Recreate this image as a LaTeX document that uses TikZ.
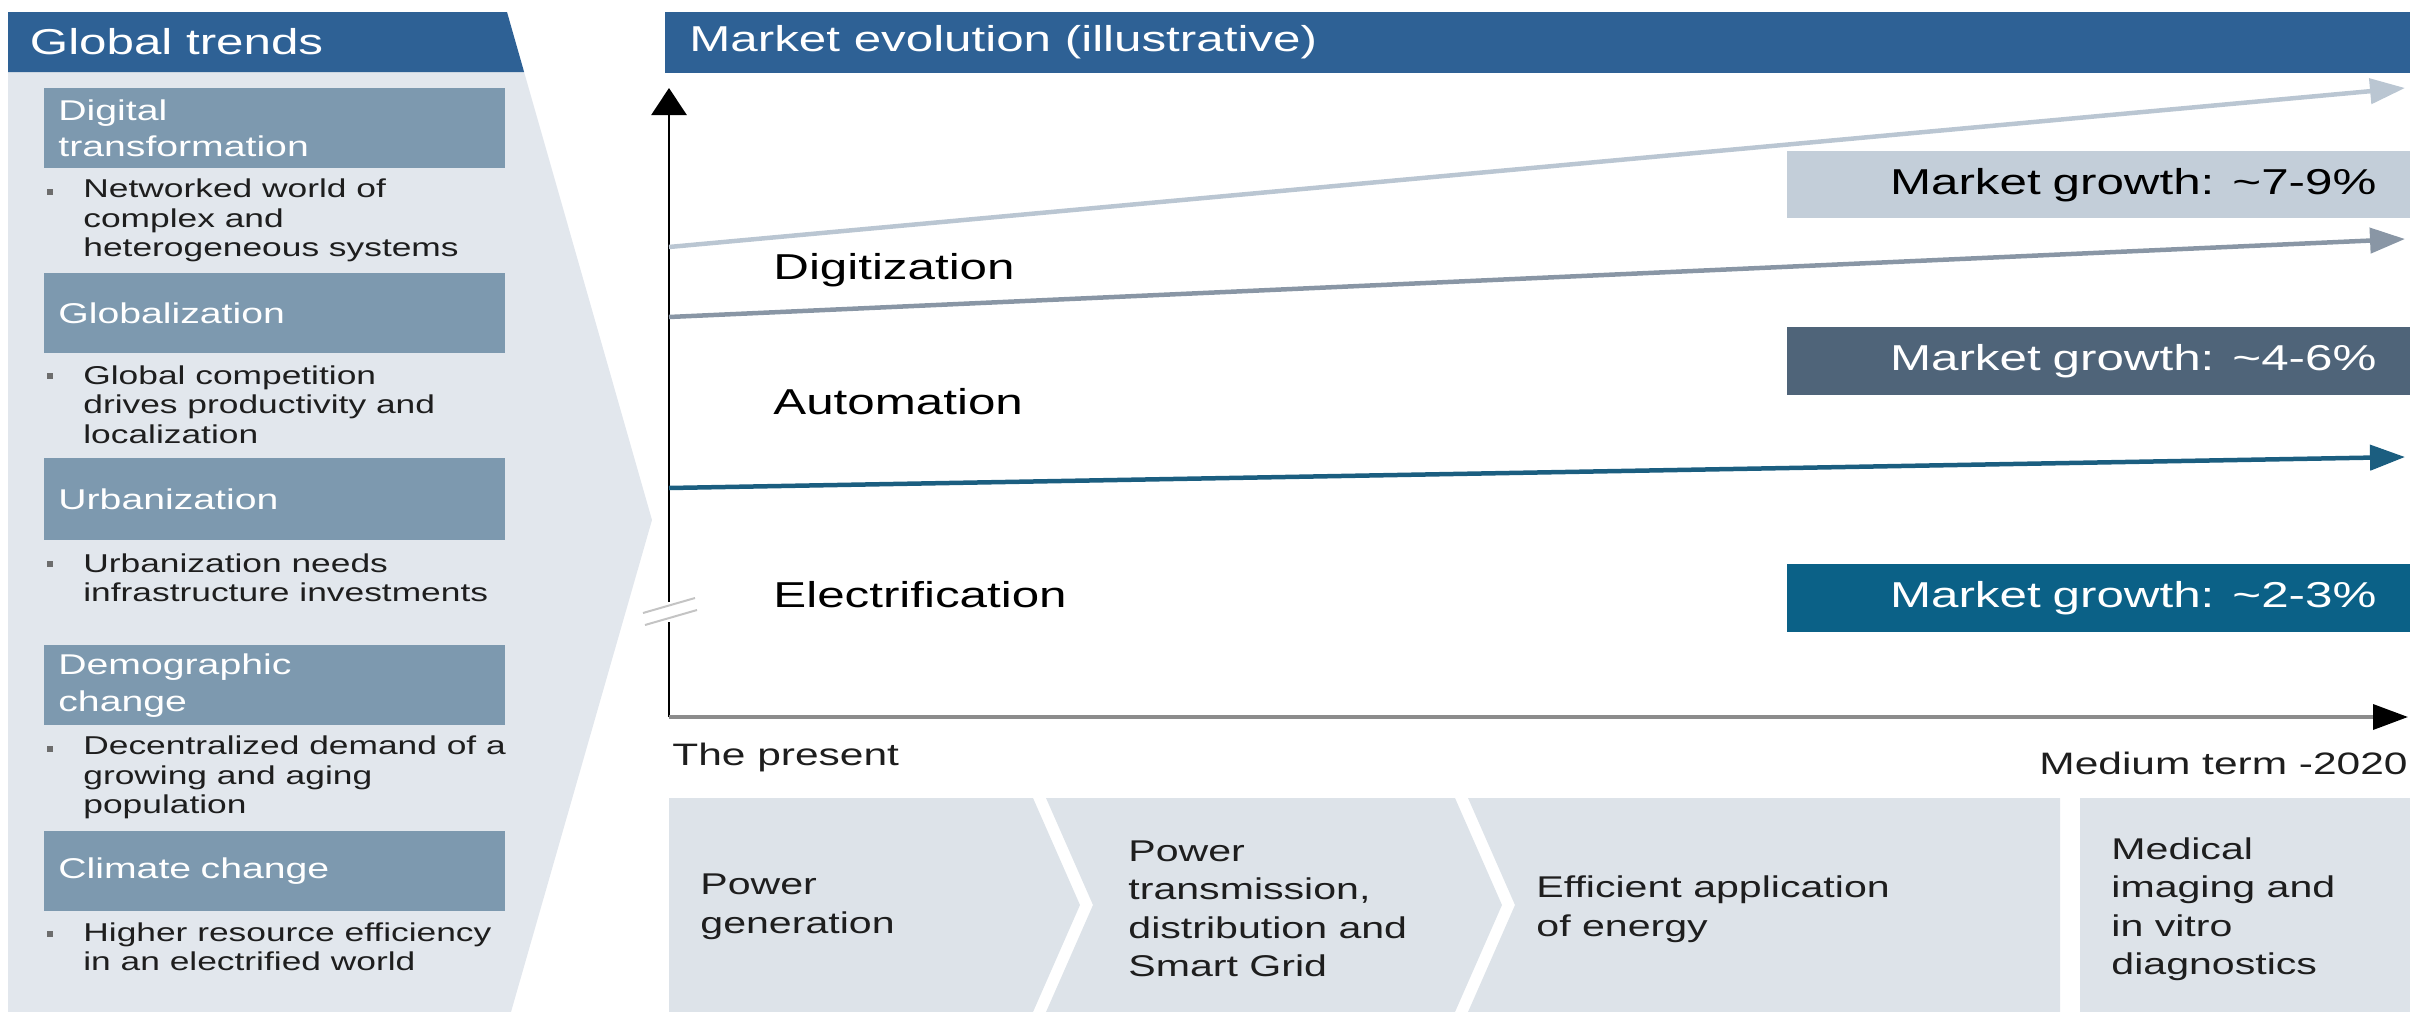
\documentclass[tikz,border=0pt]{standalone}
\usepackage{fontspec}
\setmainfont{Liberation Sans}[FakeStretch=1.37]
\usetikzlibrary{arrows.meta}
\definecolor{hdrblue}{HTML}{2E6195}
\definecolor{panelgray}{HTML}{E2E7ED}
\definecolor{trendbox}{HTML}{7D99AF}
\definecolor{chevgray}{HTML}{DDE3E9}
\definecolor{lineA}{HTML}{BAC6D2}
\definecolor{lineB}{HTML}{8996A5}
\definecolor{lineC}{HTML}{1B5E80}
\definecolor{growA}{HTML}{C3CED9}
\definecolor{growB}{HTML}{4F6479}
\definecolor{growC}{HTML}{0B6187}
\definecolor{bodytext}{HTML}{1E1E1E}
\definecolor{axisgray}{HTML}{8C8C8C}
\definecolor{breakgray}{HTML}{C4C4C4}

\begin{document}
\begin{tikzpicture}[x=0.5pt,y=-0.5pt,
  hdrtext/.style={anchor=west, text=white, inner sep=0pt, font=\fontsize{18}{21}\selectfont},
  trendtitle/.style={anchor=north west, fill=trendbox, text=white, minimum width=230.5pt,
    minimum height=40pt, text width=216.5pt, inner xsep=7pt, inner ysep=0pt, align=left,
    font=\fontsize{14.3}{18.25}\selectfont},
  bullettext/.style={anchor=west, inner sep=0pt, align=left, text=bodytext,
    font=\fontsize{12.9}{14.75}\selectfont},
  bulletmark/.style={fill=bodytext!65, minimum size=3pt, inner sep=0pt},
  trendline/.style={line width=2.25pt, -{Triangle[length=17.5pt,width=12.5pt]}},
  driver/.style={anchor=west, inner sep=0pt, text=black, font=\fontsize{18}{21}\selectfont},
  growbox/.style={anchor=north west, minimum width=311.5pt, minimum height=33.7pt,
    text width=277.5pt, inner xsep=17pt, inner ysep=0pt, align=right,
    font=\fontsize{18}{21}\selectfont},
  axislabel/.style={inner sep=0pt, text=bodytext, font=\fontsize{15.5}{18}\selectfont},
  chevtext/.style={anchor=west, inner sep=0pt, align=left, text=bodytext,
    font=\fontsize{15}{19.25}\selectfont}
]
\useasboundingbox (0,0) rectangle (2410,1012);

% ---------- Global trends panel ----------
\fill[panelgray] (8,72) -- (524.1,72) -- (652,520) -- (511,1012) -- (8,1012) -- cycle;
\fill[hdrblue] (8,12) -- (507,12) -- (524.1,72) -- (8,72) -- cycle;
\node[hdrtext] (gtitle) at (29.5,42) {Global trends};

\node[trendtitle] (tDigital) at (44,88) {Digital\\transformation};
\node[bulletmark] (mDigital) at (50,192) {};
\node[bullettext] (bDigital) at (83,220.5) {Networked world of\\complex and\\heterogeneous systems};

\node[trendtitle] (tGlobal) at (44,272.5) {Globalization};
\node[bulletmark] (mGlobal) at (50,376) {};
\node[bullettext] (bGlobal) at (83,404.5) {Global competition\\drives productivity and\\localization};

\node[trendtitle, minimum height=41pt] (tUrban) at (44,458) {Urbanization};
\node[bulletmark] (mUrban) at (50,564) {};
\node[bullettext] (bUrban) at (83,578) {Urbanization needs\\infrastructure investments};

\node[trendtitle] (tDemo) at (44,645) {Demographic\\change};
\node[bulletmark] (mDemo) at (50,749) {};
\node[bullettext] (bDemo) at (83,777.5) {Decentralized demand of a\\growing and aging\\population};

\node[trendtitle] (tClimate) at (44,831) {Climate change};
\node[bulletmark] (mClimate) at (50,934) {};
\node[bullettext] (bClimate) at (83,947) {Higher resource efficiency\\in an electrified world};

% ---------- Market evolution panel ----------
\fill[hdrblue] (665,12) rectangle (2410,73);
\node[hdrtext] (mtitle) at (689,42) {Market evolution (illustrative)};

% growth boxes
\node[growbox, fill=growA, text=black] (gA) at (1787,150.6) {Market growth: \textasciitilde 7-9\%};
\node[growbox, fill=growB, text=white] (gB) at (1787,327) {Market growth: \textasciitilde 4-6\%};
\node[growbox, fill=growC, text=white] (gC) at (1787,564) {Market growth: \textasciitilde 2-3\%};

% axes
\coordinate (origin) at (669,717);
\coordinate (ytop) at (669,88);
\coordinate (xend) at (2408,717);
\coordinate (brkLow) at (669,622);
\coordinate (brkHigh) at (669,602);
\draw[black, line width=1.35pt] (origin) -- (brkLow);
\draw[black, line width=1.35pt, -{Triangle[length=13.5pt,width=17.5pt]}] (brkHigh) -- (ytop);
\draw[axisgray, line width=1.8pt, -{Triangle[length=17.5pt,width=12.5pt,color=black]}] (origin) -- (xend);

% axis break mark
\coordinate (bk1a) at (643,613); \coordinate (bk1b) at (695,598);
\coordinate (bk2a) at (645,625); \coordinate (bk2b) at (697,610);
\draw[breakgray, line width=1pt] (bk1a) -- (bk1b);
\draw[breakgray, line width=1pt] (bk2a) -- (bk2b);

% trend lines
\coordinate (dS) at (669,247);  \coordinate (dE) at (2405,88);
\coordinate (aS) at (669,317);  \coordinate (aE) at (2405,239);
\coordinate (eS) at (669,488);  \coordinate (eE) at (2405,457);
\draw[trendline, lineA] (dS) -- (dE);
\draw[trendline, lineB] (aS) -- (aE);
\draw[trendline, lineC] (eS) -- (eE);

\node[driver] (digit) at (773,270) {Digitization};
\node[driver] (autom) at (773,402) {Automation};
\node[driver] (elect) at (773,595) {Electrification};

\node[axislabel, anchor=west] (present) at (672,757) {The present};
\node[axislabel, anchor=east] (medium) at (2408,763) {Medium term -2020};

% value chain chevrons
\fill[chevgray] (669,798) -- (1033,798) -- (1080,905) -- (1033,1012) -- (669,1012) -- cycle;
\fill[chevgray] (1046,798) -- (1455,798) -- (1502,905) -- (1455,1012) -- (1046,1012) -- (1093,905) -- cycle;
\fill[chevgray] (1468,798) -- (2060,798) -- (2060,1012) -- (1468,1012) -- (1515,905) -- cycle;
\fill[chevgray] (2080,798) rectangle (2410,1012);

\node[chevtext] (cPower) at (700,907) {Power\\generation};
\node[chevtext] (cGrid) at (1128,909) {Power\\transmission,\\distribution and\\Smart Grid};
\node[chevtext] (cEff) at (1536,909) {Efficient application\\of energy};
\node[chevtext] (cMed) at (2111,909) {Medical\\imaging and\\in vitro\\diagnostics};
\end{tikzpicture}
\end{document}
